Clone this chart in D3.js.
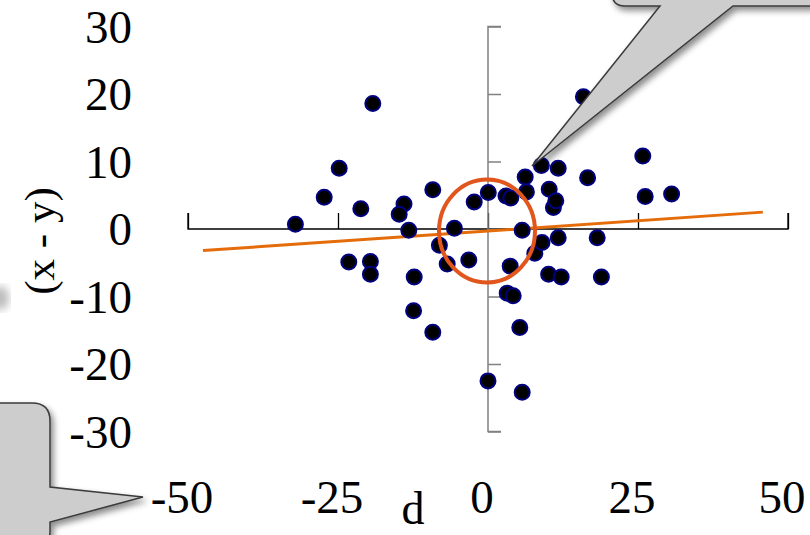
<!DOCTYPE html>
<html><head><meta charset="utf-8">
<script src="https://cdn.jsdelivr.net/npm/d3@7"></script>
<style>body{margin:0;background:#fff;overflow:hidden}svg{display:block}</style>
</head><body>
<svg id="c" width="810" height="535"></svg>
<script>
const xTicks = [-50, -25, 0, 25, 50];
const yTicks = [30, 20, 10, 0, -10, -20, -30];
const dValues = [-32.1,-27.3,-24.8,-21.2,-19.2,-23.2,-19.6,-19.6,-14.0,-14.8,-13.2,-12.3,-12.4,-9.2,-9.2,-8.1,-6.8,-5.6,-3.2,-2.3,0.05,0.0,3.0,3.8,3.7,3.2,4.2,5.3,5.7,5.7,6.2,6.4,7.8,8.9,9.0,10.2,10.9,11.3,11.7,11.7,10.1,12.2,16.6,15.9,18.2,18.9,25.8,26.2,30.6];
const diffValues = [0.7,4.7,9.0,3.0,18.6,-4.9,-4.8,-6.7,3.7,2.2,-0.2,-7.1,-12.1,5.8,-15.3,-2.4,-5.2,0.1,-4.6,4.0,5.4,-22.5,4.9,4.6,-5.5,-9.5,-9.9,-14.6,-0.2,-24.2,7.7,5.5,-3.6,9.4,-2.0,5.9,3.2,4.2,9.0,-1.3,-6.7,-7.1,7.6,19.6,-1.3,-7.1,10.8,4.8,5.2];
const trendX = [-47.5, 45.8];
const trendY = [-3.2, 2.5];
const xLabel = "d";
const yLabel = "(x - y)";

const svg = d3.select("#c");
const x = d3.scaleLinear().domain([-50, 50]).range([188, 788]);
const y = d3.scaleLinear().domain([-30, 30]).range([431.5, 26.5]);
const font = "'Liberation Serif', 'Times New Roman', serif";

const defs = svg.append("defs");
const f = defs.append("filter").attr("id","sh").attr("x","-30%").attr("y","-30%").attr("width","160%").attr("height","160%");
f.append("feDropShadow").attr("dx",3).attr("dy",4).attr("stdDeviation",3).attr("flood-color","#000").attr("flood-opacity",0.45);
const bl = defs.append("filter").attr("id","bl");
bl.append("feGaussianBlur").attr("stdDeviation",4);

// faint shadow at left edge
svg.append("ellipse").attr("cx",0).attr("cy",298).attr("rx",9).attr("ry",12)
  .attr("fill","#bbb").attr("filter","url(#bl)");

// x axis (ticks upward)
const xAxis = d3.axisTop(x).tickValues(xTicks).tickSize(16).tickFormat("");
const gx = svg.append("g").attr("transform",`translate(0,${y(0)})`).call(xAxis);
gx.select(".domain").attr("d",`M${x(-50)},-16V0H${x(50)}V-16`).attr("stroke","#000").attr("stroke-width",1.3);
gx.selectAll(".tick line").attr("stroke","#000").attr("stroke-width",1.3);

// y axis (ticks to the right)
const yAxis = d3.axisRight(y).tickValues(yTicks).tickSize(13).tickFormat("");
const gy = svg.append("g").attr("transform",`translate(${x(0)},0)`).call(yAxis);
gy.select(".domain").attr("d",`M13,${y(30)}H0V${y(-30)}H13`).attr("stroke","#808080").attr("stroke-width",1.5);
gy.selectAll(".tick line").attr("stroke","#808080").attr("stroke-width",1.5);

// tick labels
svg.append("g").selectAll("text").data(yTicks).join("text")
  .attr("x",132).attr("y",d=>y(d)).attr("dy","0.35em").attr("text-anchor","end")
  .attr("font-family",font).attr("font-size",47).attr("fill","#000").text(d=>d);
svg.append("g").selectAll("text").data(xTicks).join("text")
  .attr("x",d=>x(d)-6).attr("y",513).attr("text-anchor","middle")
  .attr("font-family",font).attr("font-size",47).attr("fill","#000").text(d=>d);

// axis titles
svg.append("text").attr("x",413).attr("y",524).attr("text-anchor","middle")
  .attr("font-family",font).attr("font-size",46).text(xLabel);
svg.append("text").attr("transform","translate(54,241) rotate(-90)").attr("text-anchor","middle")
  .attr("font-family",font).attr("font-size",43).text(yLabel);

// trend line
svg.append("line").attr("x1",x(trendX[0])).attr("y1",y(trendY[0])).attr("x2",x(trendX[1])).attr("y2",y(trendY[1]))
  .attr("stroke","#e46c0a").attr("stroke-width",3);

// points
svg.append("g").selectAll("circle").data(dValues.map((d,i)=>[d,diffValues[i]])).join("circle")
  .attr("cx",d=>x(d[0])).attr("cy",d=>y(d[1])).attr("r",7.5)
  .attr("fill","#000").attr("stroke","#000080").attr("stroke-width",2);

// highlight ellipse
svg.append("ellipse").attr("cx",x(0)-1).attr("cy",y(0)+2).attr("rx",48).attr("ry",51.5)
  .attr("fill","none").attr("stroke","#e0561c").attr("stroke-width",4);

// callouts
svg.append("path")
  .attr("d","M612,-60 L612,-7 Q612,6 625,6 L660,6 L532,166 L733,6 L840,6 L840,-60 Z")
  .attr("fill","#cdcdcd").attr("stroke","#3a3a3a").attr("stroke-width",1.5).attr("filter","url(#sh)");
svg.append("path")
  .attr("d","M-30,403 L32,403 Q50,403 50,421 L50,487 L143,497 L50,522 L50,532 Q50,550 32,550 L-30,550 Z")
  .attr("fill","#cdcdcd").attr("stroke","#3a3a3a").attr("stroke-width",1.5).attr("filter","url(#sh)");
</script>
</body></html>
